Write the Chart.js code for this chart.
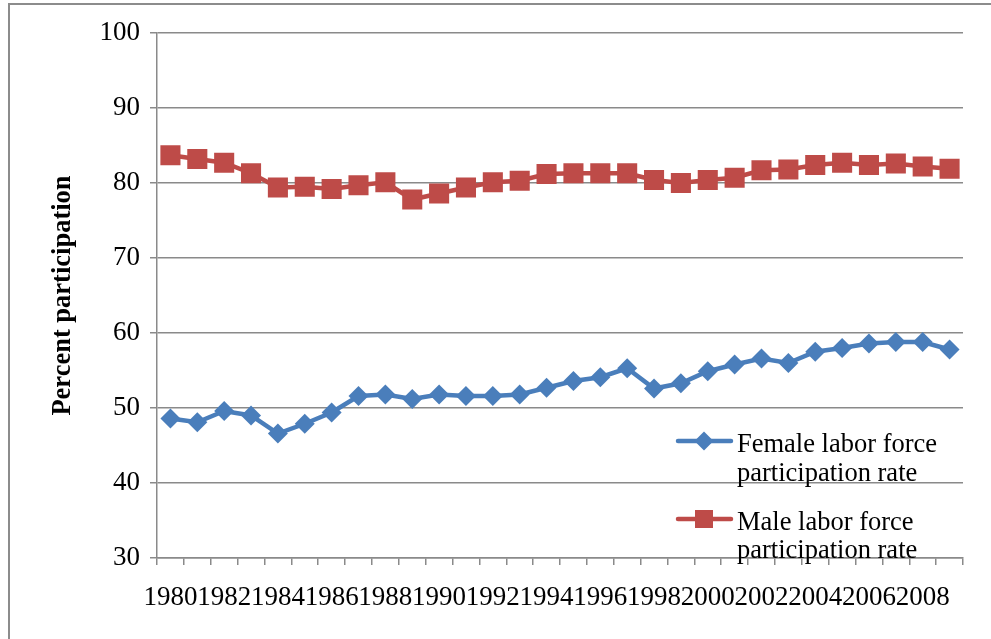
<!DOCTYPE html>
<html>
<head>
<meta charset="utf-8">
<script src="https://cdn.jsdelivr.net/npm/chart.js@4.4.0/dist/chart.umd.min.js"></script>
<style>
  html, body { margin: 0; padding: 0; background: #fff; }
  #wrap { position: relative; width: 991px; height: 639px; overflow: hidden; }
  #frame { position: absolute; left: 8px; top: 3px; width: 1100px; height: 800px; border: 2px solid #8c8c8c; box-sizing: border-box; pointer-events: none; }
  canvas { position: absolute; left: 0; top: 0; }
</style>
</head>
<body>
<div id="wrap">
  <canvas id="c" width="991" height="639"></canvas>
  <div id="frame"></div>
</div>
<script>
const years = ['1980','1981','1982','1983','1984','1985','1986','1987','1988','1989',
               '1990','1991','1992','1993','1994','1995','1996','1997','1998','1999',
               '2000','2001','2002','2003','2004','2005','2006','2007','2008','2009'];
const female = [48.6,48.1,49.6,49.0,46.6,47.9,49.4,51.6,51.8,51.2,
                51.8,51.6,51.6,51.8,52.7,53.6,54.1,55.3,52.6,53.3,
                54.9,55.8,56.6,56.0,57.5,58.0,58.6,58.8,58.8,57.8];
const male = [83.7,83.2,82.7,81.3,79.4,79.5,79.2,79.7,80.1,77.8,
              78.6,79.4,80.1,80.3,81.2,81.3,81.3,81.3,80.4,80.0,
              80.4,80.7,81.7,81.8,82.4,82.7,82.4,82.6,82.2,81.9];
const yMin = 30, yMax = 100, yStep = 10;
const seriesNames = [['Female labor force', 'participation rate'], ['Male labor force', 'participation rate']];
const yTitle = 'Percent participation';

const FONT = '"Liberation Serif", "Times New Roman", serif';
const GRID = '#8a8a8a';
const BLUE = '#4A7EBB';
const RED = '#BE4B48';

const legendPlugin = {
  id: 'customLegend',
  afterDraw(chart) {
    const ctx = chart.ctx;
    const ds = chart.data.datasets;
    const rows = [{ y: 441, base: [452, 481] }, { y: 519, base: [530, 558] }];
    ctx.save();
    ds.forEach((d, i) => {
      const r = rows[i];
      ctx.strokeStyle = d.borderColor;
      ctx.lineWidth = 4.5;
      ctx.lineCap = 'round';
      ctx.beginPath();
      ctx.moveTo(678, r.y);
      ctx.lineTo(731, r.y);
      ctx.stroke();
      ctx.fillStyle = d.borderColor;
      ctx.beginPath();
      if (d.pointStyle === 'rectRot') {
        ctx.moveTo(704 - 9.5, r.y); ctx.lineTo(704, r.y - 9.5); ctx.lineTo(704 + 9.5, r.y); ctx.lineTo(704, r.y + 9.5);
        ctx.closePath();
      } else {
        ctx.rect(704 - 9, r.y - 9, 18, 18);
      }
      ctx.fill();
      ctx.fillStyle = '#000';
      ctx.font = '26.5px ' + FONT;
      ctx.textAlign = 'left';
      ctx.textBaseline = 'alphabetic';
      const lines = d.labelLines;
      lines.forEach((t, k) => ctx.fillText(t, 737, r.base[k]));
    });
    ctx.restore();
  }
};

new Chart(document.getElementById('c'), {
  type: 'line',
  data: {
    labels: years,
    datasets: [
      { label: seriesNames[0].join(' '), labelLines: seriesNames[0], data: female,
        borderColor: BLUE, backgroundColor: BLUE, borderWidth: 4.5,
        pointStyle: 'rectRot', pointRadius: 10, pointBorderWidth: 0, tension: 0 },
      { label: seriesNames[1].join(' '), labelLines: seriesNames[1], data: male,
        borderColor: RED, backgroundColor: RED, borderWidth: 4.5,
        pointStyle: 'rect', pointRadius: 14.2, pointBorderWidth: 0, tension: 0 }
    ]
  },
  plugins: [legendPlugin],
  options: {
    responsive: false,
    animation: false,
    events: [],
    layout: { padding: { left: 20, right: 28, top: 33, bottom: 0 } },
    plugins: { legend: { display: false }, tooltip: { enabled: false } },
    scales: {
      x: {
        offset: true,
        afterFit(s) { s.height = 81; },
        grid: { offset: true, drawOnChartArea: false, drawTicks: true, tickLength: 7, color: GRID, lineWidth: 1.5 },
        border: { display: true, color: GRID, width: 1.5 },
        ticks: {
          autoSkip: false, maxRotation: 0, minRotation: 0, padding: 17,
          color: '#000', font: { family: FONT, size: 27 },
          callback: (v, i) => (i % 2 === 0 ? years[i] : '')
        }
      },
      y: {
        min: yMin, max: yMax,
        afterFit(s) { s.width = 137; },
        grid: { color: GRID, lineWidth: 1.5, tickLength: 7 },
        border: { display: true, color: GRID, width: 1.5 },
        ticks: { stepSize: yStep, padding: 10, color: '#000', font: { family: FONT, size: 27 } },
        title: { display: true, text: yTitle, color: '#000', padding: { top: 27, bottom: 0 },
                 font: { family: FONT, size: 26.5, weight: 'bold' } }
      }
    }
  }
});
</script>
</body>
</html>
